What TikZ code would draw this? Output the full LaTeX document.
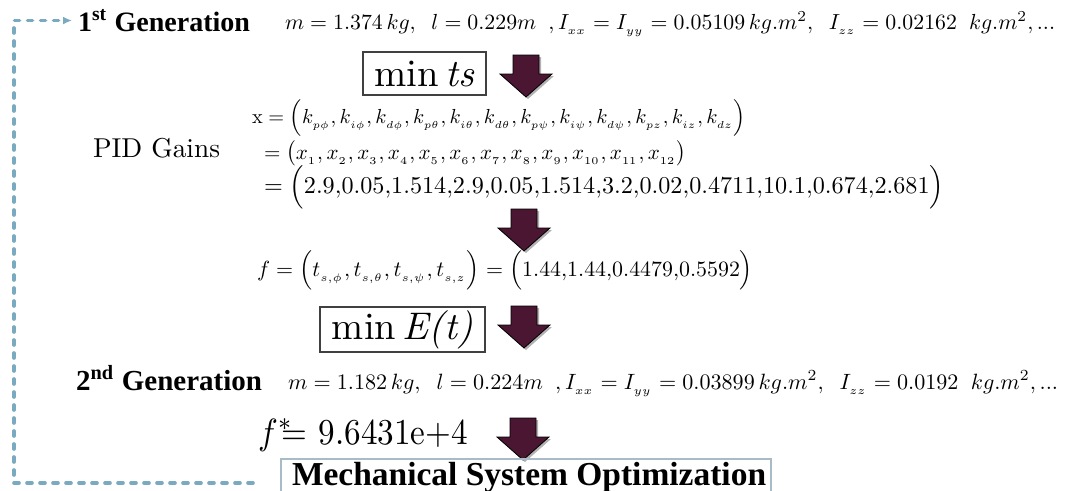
\documentclass[tikz,border=0pt]{standalone}
\usepackage{amsmath}
\usepackage{graphicx}
\usepackage{fontspec}
\newfontfamily\labelfont{Liberation Serif}
\usetikzlibrary{arrows.meta}
\definecolor{dashblue}{RGB}{122,170,192}
\definecolor{arrfill}{RGB}{74,22,50}
\definecolor{boxgray}{RGB}{168,188,200}
\tikzset{
  txt/.style={inner sep=0pt, outer sep=0pt, anchor=base west},
  framebox/.style={draw=black!75, line width=1.2pt, inner sep=0pt},
  msobox/.style={draw=boxgray, line width=1.5pt},
  feedback/.style={draw=dashblue, line width=3.6pt, line cap=round, dash pattern=on 5pt off 8pt},
  downarr/.pic={
    \fill[black!30] (-11,-19) -- (15,-19) -- (15,0) -- (28,0) -- (2,23) -- (-24,0) -- (-11,0) -- cycle;
    \draw[fill=arrfill, draw=black, line width=0.8pt, line join=miter]
      (-13,-21) -- (13,-21) -- (13,-2) -- (26,-2) -- (0,21) -- (-26,-2) -- (-13,-2) -- cycle;
  }
}
\begin{document}
\begin{tikzpicture}[x=1pt,y=-1pt]
\useasboundingbox (0,0) rectangle (1071,490);

% first generation
\node[txt] (g1) at (78,31) {\resizebox{172pt}{!}{\labelfont\bfseries 1\textsuperscript{st} Generation}};
\node[txt] (eq1) at (285,29) {\resizebox{770pt}{!}{$m = 1.374\,kg,\;\; l = 0.229m\;\;,I_{_{xx}} = I_{_{yy}} = 0.05109\,kg.m^{2},\;\; I_{_{zz}} = 0.02162\;\; kg.m^{2},...$}};

% min ts
\node[framebox, minimum width=123pt, minimum height=43pt] (mints) at (424.5,73.5) {\resizebox{100pt}{!}{min\,\textit{ts}}};
\pic (a1) at (526,76) {downarr};

% PID gains
\node[txt] (pid) at (93,157) {\resizebox{127pt}{!}{PID Gains}};
\node[txt] (xl1) at (252,123) {\resizebox{494pt}{!}{$\mathrm{x} = \Bigl(k_{_{p\phi}},k_{_{i\phi}},k_{_{d\phi}},k_{_{p\theta}},k_{_{i\theta}},k_{_{d\theta}},k_{_{p\psi}},k_{_{i\psi}},k_{_{d\psi}},k_{_{pz}},k_{_{iz}},k_{_{dz}}\Bigr)$}};
\node[txt] (xl2) at (264,159) {\resizebox{422pt}{!}{$= \bigl(x_{_1},x_{_2},x_{_3},x_{_4},x_{_5},x_{_6},x_{_7},x_{_8},x_{_9},x_{_{10}},x_{_{11}},x_{_{12}}\bigr)$}};
\node[txt] (xl3) at (264,193) {\resizebox{680pt}{!}{$= \Bigl(2.9{,}0.05{,}1.514{,}2.9{,}0.05{,}1.514{,}3.2{,}0.02{,}0.4711{,}10.1{,}0.674{,}2.681\Bigr)$}};
\pic (a2) at (524,230) {downarr};

% f
\node[txt] (fl) at (257,276) {\resizebox{496pt}{!}{$f = \Bigl(t_{_{s,\phi}},t_{_{s,\theta}},t_{_{s,\psi}},t_{_{s,z}}\Bigr) = \Bigl(1.44{,}1.44{,}0.4479{,}0.5592\Bigr)$}};

% min E(t)
\node[framebox, minimum width=165pt, minimum height=45pt] (minE) at (402.5,329.5) {\resizebox{141pt}{!}{min\,\textit{E(t)}}};
\pic (a3) at (524,327) {downarr};

% second generation
\node[txt] (g2) at (76,390) {\resizebox{186pt}{!}{\labelfont\bfseries 2\textsuperscript{nd} Generation}};
\node[txt] (eq2) at (288,389) {\resizebox{770pt}{!}{$m = 1.182\,kg,\;\; l = 0.224m\;\;,I_{_{xx}} = I_{_{yy}} = 0.03899\,kg.m^{2},\;\; I_{_{zz}} = 0.0192\;\; kg.m^{2},...$}};

% f*
\node[txt] (fstar) at (258,444) {\scalebox{1}[1.1]{\resizebox{210pt}{!}{$f^{*}$\!\!= 9.6431e+4}}};
\pic (a4) at (523,439) {downarr};

% mechanical system optimization
\node[msobox, minimum width=490pt, minimum height=50pt, anchor=north west, inner sep=0pt] (mso) at (280,458) {};
\node[txt] (msot) at (292,485) {\resizebox{474pt}{!}{\labelfont\bfseries Mechanical System Optimization}};

% feedback loop
\coordinate (fbstart) at (253,483);
\coordinate (fbcorner) at (14,483);
\draw[feedback, -{Latex[length=9pt,width=8pt]}, shorten >=6pt] (fbstart) -- (fbcorner) |- (g1.west);
\end{tikzpicture}
\end{document}
